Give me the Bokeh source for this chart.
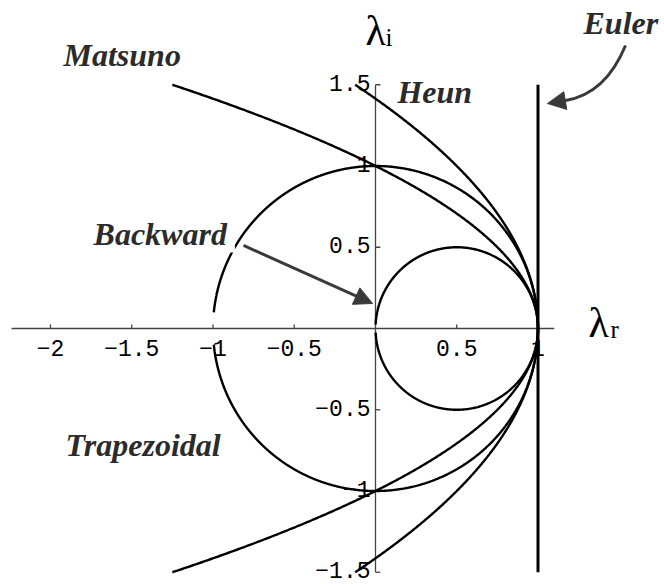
from bokeh.plotting import figure
from bokeh.models import Range1d, Arrow, NormalHead
from bokeh.core.properties import value
from bokeh.embed import file_html
from bokeh.resources import INLINE
import numpy as np

# Amplification factor A(w) for dψ/dt = iωψ, w = ωΔt, plotted in the (λr, λi) plane
w_short = np.linspace(-1.5, 1.5, 601)      # explicit schemes
w_long = np.linspace(-40.0, 40.0, 8001)    # implicit schemes (approach their limit points)

euler = 1 + 1j * w_short
matsuno = 1 + 1j * w_short - w_short ** 2
heun = 1 + 1j * w_short - w_short ** 2 / 2
backward = 1 / (1 - 1j * w_long)
trapezoidal = (1 + 1j * w_long / 2) / (1 - 1j * w_long / 2)

x_ticks = [-2, -1.5, -1, -0.5, 0.5, 1]
x_tick_labels = ["\u22122", "\u22121.5", "\u22121", "\u22120.5", "0.5", "1"]
y_ticks = [-1.5, -1, -0.5, 0.5, 1, 1.5]
y_tick_labels = ["\u22121.5", "\u22121", "\u22120.5", "0.5", "1", "1.5"]

S = 162.5  # pixels per unit on both axes
p = figure(width=664, height=584, output_backend="svg", toolbar_location=None,
           x_range=Range1d(-375 / S, (664 - 375) / S),
           y_range=Range1d((328 - 584) / S, 328 / S),
           x_axis_type=None, y_axis_type=None, min_border=0)
p.outline_line_color = None
p.grid.visible = False
p.background_fill_color = "white"
p.border_fill_color = "white"


def lift(size):
    # pull alphabetic-baseline text back onto its anchor
    return -round(0.34 * size)


# axes through the origin
AX = "#444444"
p.segment(x0=[-2.24, 0], y0=[0, -1.5], x1=[1.1, 0], y1=[0, 1.5], line_color=AX, line_width=1.3)
p.segment(x0=x_ticks, y0=[0] * len(x_ticks), x1=x_ticks, y1=[0.025] * len(x_ticks),
          line_color=AX, line_width=1.3)
p.segment(x0=[0] * len(y_ticks), y0=y_ticks, x1=[0.03] * len(y_ticks), y1=y_ticks,
          line_color=AX, line_width=1.3)

# stability curves
for A in (trapezoidal, backward, matsuno, heun):
    p.line(A.real, A.imag, line_color="black", line_width=2.4)
p.line(euler.real, euler.imag, line_color="black", line_width=3)

# tick labels
mono = value("Liberation Mono")
TS = 23
p.text(x=x_ticks, y=[0] * len(x_ticks), text=x_tick_labels, text_font=mono,
       text_font_size=f"{TS}px", text_align="center", text_baseline="alphabetic",
       y_offset=27 + lift(TS), text_color="black")
p.text(x=[0] * len(y_ticks), y=y_ticks, text=y_tick_labels, text_font=mono,
       text_font_size=f"{TS}px", text_align="right", text_baseline="alphabetic",
       x_offset=-5, y_offset=6 + lift(TS), text_color="black")

# axis titles
serif = value("Liberation Serif")
p.text(x=[-0.0615, 1.311], y=[1.742, -0.055], text=["\u03bb", "\u03bb"], text_font=serif,
       text_font_size="42px", text_baseline="alphabetic", y_offset=lift(42),
       text_color="black")
p.text(x=[0.0615, 1.446], y=[1.742, -0.055], text=["i", "r"], text_font=serif,
       text_font_size="25px", text_baseline="alphabetic", y_offset=lift(25),
       text_color="black")

# scheme labels
LBL = "#2b2b2b"
LS = 32
p.text(x=[-1.92, 0.135, 1.28, -1.908], y=[1.618, 1.385, 1.815, -0.782],
       text=["Matsuno", "Heun", "Euler", "Trapezoidal"], text_font=serif,
       text_font_size=f"{LS}px", text_font_style="bold italic", text_baseline="alphabetic",
       y_offset=lift(LS), text_color=LBL)
p.text(x=[-1.735], y=[0.511], text=["Backward"], text_font=serif,
       text_font_size=f"{LS}px", text_font_style="bold italic", text_baseline="alphabetic",
       y_offset=lift(LS), text_color=LBL, background_fill_color="white",
       padding=(0, 8, 0, 0))

# arrows
ARR = "#3a3a3a"
p.add_layout(Arrow(x_start=-0.812, y_start=0.511, x_end=-0.018, y_end=0.154,
                   line_color=ARR, line_width=3,
                   end=NormalHead(size=18, fill_color=ARR, line_color=ARR, line_width=1)))
p.quadratic(x0=[1.5385], y0=[1.7415], x1=[1.1692], y1=[1.4031], cx=[1.4154], cy=[1.4431],
            line_color=ARR, line_width=3)
p.add_layout(Arrow(x_start=1.1692, y_start=1.4031, x_end=1.0585, y_end=1.3846,
                   line_color=ARR, line_width=3,
                   end=NormalHead(size=18, fill_color=ARR, line_color=ARR, line_width=1)))

open("out.html", "w").write(file_html(p, INLINE))
